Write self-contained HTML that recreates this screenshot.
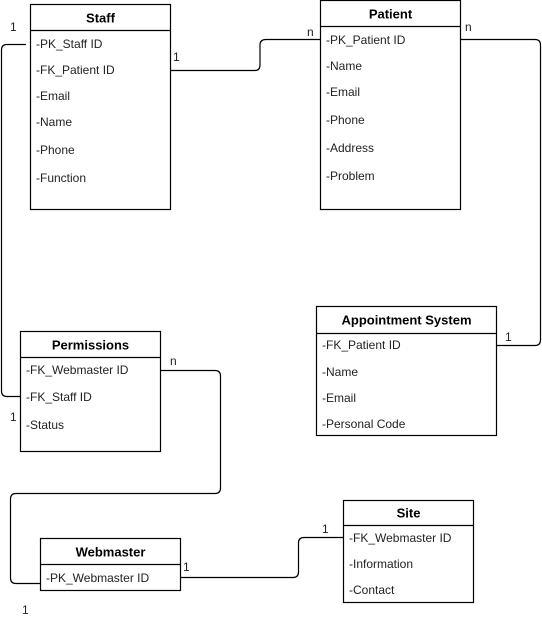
<!DOCTYPE html>
<html><head><meta charset="utf-8"><style>
html,body{margin:0;padding:0;background:#fff;}
svg{display:block;}
text{font-family:"Liberation Sans",Arial,sans-serif;font-size:12px;fill:#222;}
.h{font-weight:bold;font-size:13px;fill:#000;}
</style></head><body>
<svg width="542" height="622" viewBox="0 0 542 622" xmlns="http://www.w3.org/2000/svg">
<g fill="none" stroke="#000" stroke-width="1.2">
<!-- connectors -->
<path d="M170.5 70.5 H255 Q260 70.5 260 65 V45 Q260 39.5 266 39.5 H320"/>
<path d="M460.5 39.5 H535 Q540.5 39.5 540.5 45 V340 Q540.5 345.5 535 345.5 H496"/>
<path d="M26 44.5 H7 Q1.5 44.5 1.5 50 V391 Q1.5 396.5 7 396.5 H20"/>
<path d="M160.5 370.5 H215 Q220.5 370.5 220.5 376 V488 Q220.5 493.5 215 493.5 H16 Q10.5 493.5 10.5 499 V578 Q10.5 583.5 16 583.5 H40"/>
<path d="M180.5 577.5 H293 Q298.5 577.5 298.5 572 V543 Q298.5 537.5 304 537.5 H343"/>
<!-- boxes -->
<rect x="30.5" y="4.5" width="140" height="205"/><line x1="30.5" y1="30.5" x2="170.5" y2="30.5"/>
<rect x="320.5" y="0.5" width="140" height="209"/><line x1="320.5" y1="26.5" x2="460.5" y2="26.5"/>
<rect x="316.5" y="306.5" width="180" height="129"/><line x1="316.5" y1="333.5" x2="496.5" y2="333.5"/>
<rect x="20.5" y="331.5" width="140" height="120"/><line x1="20.5" y1="357.5" x2="160.5" y2="357.5"/>
<rect x="40.5" y="538.5" width="140" height="52"/><line x1="40.5" y1="564.5" x2="180.5" y2="564.5"/>
<rect x="343.5" y="500.5" width="130" height="102"/><line x1="343.5" y1="525.5" x2="473.5" y2="525.5"/>
</g>
<g dominant-baseline="central">
<text class="h" x="100.5" y="18" text-anchor="middle">Staff</text>
<text x="36" y="44">-PK_Staff ID</text><text x="36" y="70">-FK_Patient ID</text><text x="36" y="96">-Email</text><text x="36" y="122">-Name</text><text x="36" y="150">-Phone</text><text x="36" y="178">-Function</text>
<text class="h" x="390.5" y="14" text-anchor="middle">Patient</text>
<text x="326" y="40">-PK_Patient ID</text><text x="326" y="66">-Name</text><text x="326" y="92">-Email</text><text x="326" y="120">-Phone</text><text x="326" y="148">-Address</text><text x="326" y="176">-Problem</text>
<text class="h" x="406.5" y="320" text-anchor="middle">Appointment System</text>
<text x="322" y="345">-FK_Patient ID</text><text x="322" y="372">-Name</text><text x="322" y="398">-Email</text><text x="322" y="424">-Personal Code</text>
<text class="h" x="90.5" y="345" text-anchor="middle">Permissions</text>
<text x="26" y="370">-FK_Webmaster ID</text><text x="26" y="397">-FK_Staff ID</text><text x="26" y="425">-Status</text>
<text class="h" x="110.5" y="552" text-anchor="middle">Webmaster</text>
<text x="46" y="578">-PK_Webmaster ID</text>
<text class="h" x="408.5" y="513" text-anchor="middle">Site</text>
<text x="349" y="538">-FK_Webmaster ID</text><text x="349" y="564">-Information</text><text x="349" y="590">-Contact</text>
<text x="10" y="27">1</text><text x="173" y="57">1</text><text x="307" y="32">n</text><text x="465" y="27">n</text>
<text x="505" y="337">1</text><text x="10" y="417">1</text><text x="170" y="361">n</text><text x="22" y="610">1</text>
<text x="183" y="567">1</text><text x="322" y="529">1</text>
</g>
</svg>
</body></html>
